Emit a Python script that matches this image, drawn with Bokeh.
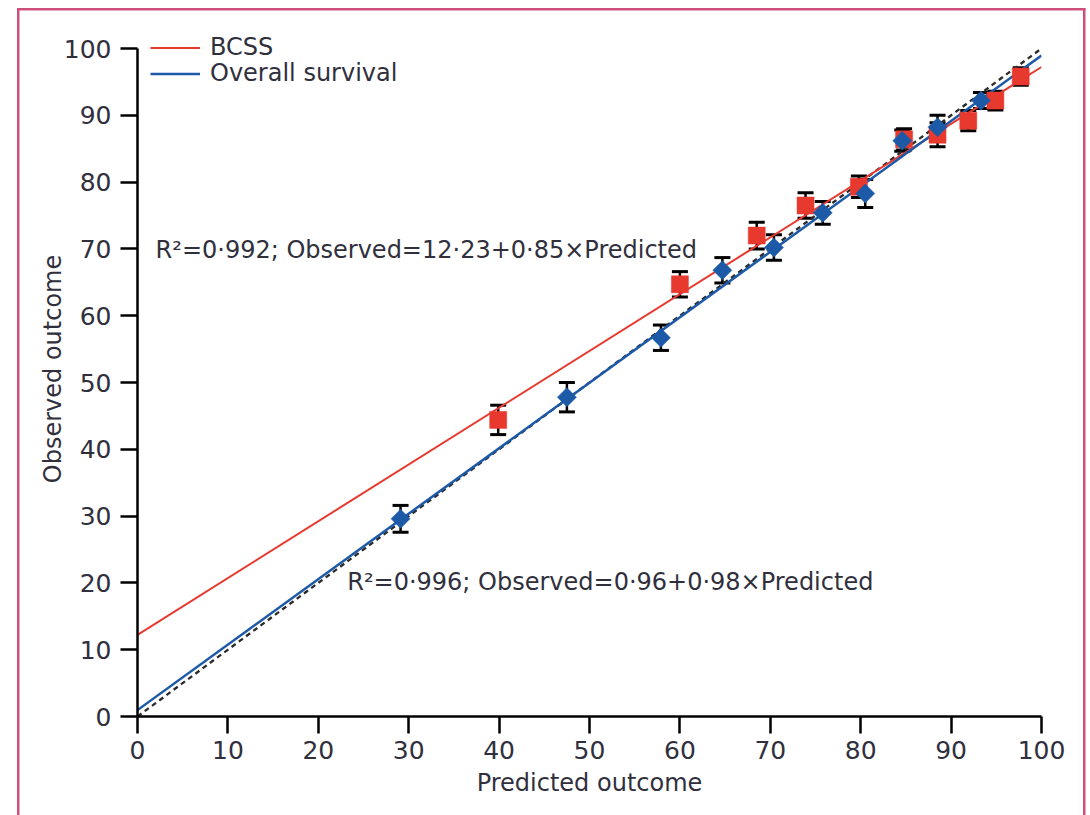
import numpy as np
from bokeh.plotting import figure
from bokeh.models import (ColumnDataSource, Whisker, Legend, LegendItem, Label,
                          FixedTicker)
from bokeh.embed import file_html
from bokeh.resources import INLINE

# ---- data ----
bcss_pred = [39.9, 60.0, 68.5, 73.9, 79.8, 84.8, 88.5, 91.9, 94.9, 97.7]
bcss_obs = [44.4, 64.7, 72.0, 76.5, 79.3, 86.4, 87.1, 89.2, 92.2, 95.8]
bcss_err = [2.2, 1.9, 2.0, 1.9, 1.6, 1.6, 1.8, 1.5, 1.4, 1.3]

os_pred = [29.1, 47.5, 57.9, 64.7, 70.4, 75.8, 80.5, 84.6, 88.5, 93.3]
os_obs = [29.6, 47.8, 56.7, 66.8, 70.2, 75.4, 78.3, 86.2, 88.2, 92.2]
os_err = [2.0, 2.2, 1.9, 1.9, 1.9, 1.7, 2.1, 1.6, 1.8, 1.2]

bcss_fit = (12.23, 0.85)   # intercept, slope
os_fit = (0.96, 0.98)
ident_fit = (0.0, 1.0)

ticks = [0, 10, 20, 30, 40, 50, 60, 70, 80, 90, 100]
bcss_text = "R\u00b2=0\u00b7992; Observed=12\u00b723+0\u00b785\u00d7Predicted"
os_text = "R\u00b2=0\u00b7996; Observed=0\u00b796+0\u00b798\u00d7Predicted"

RED = "#e8392f"
BLUE = "#1c5aa8"
TXT = "#30303d"
PINK = "#cf4f7c"
FONT = "DejaVu Sans"

# frame: y=100 sits 27 px below the frame top so the legend is not clipped
Y_TOP_EXTRA = 27.0
y_end = 100.0 * (668.0 + Y_TOP_EXTRA) / 668.0

p = figure(width=1090, height=815, x_range=(0, 100), y_range=(0, y_end),
           output_backend="svg", toolbar_location=None,
           min_border_left=137, min_border_right=49,
           min_border_top=int(48 - Y_TOP_EXTRA), min_border_bottom=99)
p.outline_line_color = None
p.grid.visible = False
p.background_fill_color = "white"
p.border_fill_color = None
g = f"linear-gradient({PINK},{PINK})"
p.styles = {
    "background-color": "white",
    "background-image": f"{g},{g},{g}",
    "background-position": "17px 8px, 1083px 8px, 17px 8px",
    "background-size": "2.5px 900px, 2.5px 900px, 1068.5px 2.5px",
    "background-repeat": "no-repeat",
}

for ax in (p.xaxis, p.yaxis):
    ax.ticker = FixedTicker(ticks=ticks)
    ax.bounds = (0, 100)
    ax.minor_tick_line_color = None
    ax.major_tick_out = 17
    ax.major_tick_in = 0
    ax.major_tick_line_width = 2.5
    ax.axis_line_width = 2.5
    ax.axis_line_color = "black"
    ax.major_tick_line_color = "black"
    ax.major_label_text_font = FONT
    ax.major_label_text_font_size = "25px"
    ax.major_label_text_color = TXT
    ax.axis_label_text_font = FONT
    ax.axis_label_text_font_size = "24px"
    ax.axis_label_text_font_style = "normal"
    ax.axis_label_text_color = TXT

p.xaxis.axis_label = "Predicted outcome"
p.yaxis.axis_label = "Observed outcome"
p.yaxis.major_label_standoff = 9
p.xaxis.major_label_standoff = 7
p.yaxis.axis_label_standoff = -6
p.xaxis.axis_label_standoff = 7

# fit lines
xs_end = np.array([0.0, 100.0])
def fit_y(fit):
    return fit[0] + fit[1] * xs_end

p.line(xs_end, fit_y(ident_fit), line_color="#2a2a2a", line_width=2.3, line_dash="5 4")
r_red = p.line(xs_end, fit_y(bcss_fit), line_color=RED, line_width=2)
r_blue = p.line(xs_end, fit_y(os_fit), line_color=BLUE, line_width=2.5)

def add_whisker(src):
    w = Whisker(source=src, base="x", lower="lo", upper="hi", dimension="height",
                line_color="black", line_width=2.5)
    for h in (w.upper_head, w.lower_head):
        h.size = 16
        h.line_width = 3
        h.line_color = "black"
    p.add_layout(w)

# BCSS points with error bars
src_b = ColumnDataSource(dict(x=bcss_pred, y=bcss_obs,
                              lo=[o - e for o, e in zip(bcss_obs, bcss_err)],
                              hi=[o + e for o, e in zip(bcss_obs, bcss_err)]))
add_whisker(src_b)
p.scatter("x", "y", source=src_b, marker="square", size=17,
          fill_color=RED, line_color=RED, line_width=0.5)

src_o = ColumnDataSource(dict(x=os_pred, y=os_obs,
                              lo=[o - e for o, e in zip(os_obs, os_err)],
                              hi=[o + e for o, e in zip(os_obs, os_err)]))
add_whisker(src_o)
p.scatter("x", "y", source=src_o, marker="square", size=13.5, angle=np.pi / 4,
          fill_color=BLUE, line_color=BLUE, line_width=0.5)

# annotations
p.add_layout(Label(x=2.0, y=69.9, text=bcss_text, text_baseline="middle",
                   text_font=FONT, text_font_size="24px", text_color=TXT))
p.add_layout(Label(x=23.2, y=20.1, text=os_text, text_baseline="middle",
                   text_font=FONT, text_font_size="24px", text_color=TXT))

# legend (one entry per box so that rows sit close together)
def add_legend(label, rend, vy):
    lg = Legend(items=[LegendItem(label=label, renderers=[rend])],
                location=(13, vy), padding=0, margin=0, spacing=0,
                border_line_color=None, background_fill_alpha=0,
                glyph_width=50, glyph_height=25, label_height=25,
                label_standoff=10,
                label_text_font=FONT, label_text_font_size="24px",
                label_text_color=TXT, label_text_baseline="middle")
    p.add_layout(lg)

add_legend("BCSS", r_red, 655)
add_legend("Overall survival", r_blue, 629)

open("out.html", "w").write(file_html(p, INLINE))
